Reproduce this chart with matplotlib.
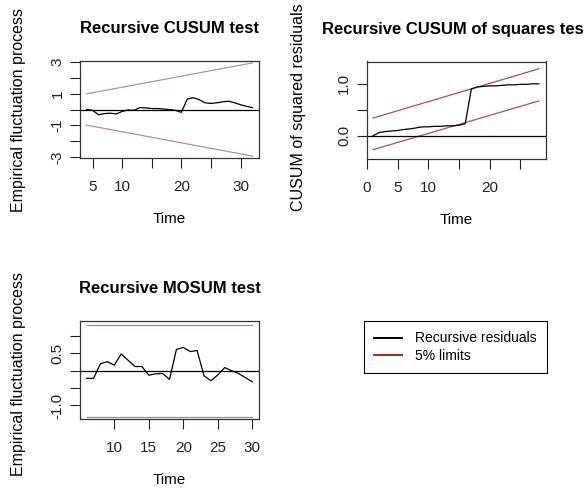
"""Recursive CUSUM / CUSUM-of-squares / MOSUM panels (strucchange-style efp plots)."""
import numpy as np
import matplotlib
matplotlib.use("Agg")
import matplotlib.pyplot as plt
from matplotlib.lines import Line2D

plt.rcParams["font.family"] = ["Liberation Sans", "DejaVu Sans"]
plt.rcParams["font.size"] = 11

# ── data ─────────────────────────────────────────────────────────────────────
cusum_t = np.arange(4, 33)
cusum_val = [0.0, -0.05, -0.33, -0.26, -0.23, -0.28, -0.12, -0.03, -0.05, 0.12,
             0.10, 0.06, 0.06, 0.03, 0.0, -0.05, -0.18, 0.65, 0.74, 0.62,
             0.42, 0.38, 0.42, 0.48, 0.52, 0.42, 0.30, 0.20, 0.12]
cusum_lim_t = [4, 32]
cusum_upper = [0.98, 2.92]
cusum_lower = [-0.98, -2.92]

sq_t = np.arange(1, 29)
sq_val = [0.0, 0.06, 0.08, 0.09, 0.10, 0.12, 0.13, 0.15, 0.17, 0.17,
          0.18, 0.18, 0.19, 0.19, 0.20, 0.23, 0.90, 0.94, 0.95, 0.96,
          0.96, 0.97, 0.98, 0.98, 0.99, 0.99, 1.0, 1.0]
sq_lim_t = [1, 28]
sq_upper = [0.34, 1.29]
sq_lower = [-0.27, 0.67]

mosum_t = np.arange(6, 31)
mosum_val = [-0.22, -0.22, 0.20, 0.26, 0.16, 0.48, 0.30, 0.12, 0.12, -0.13,
             -0.09, -0.08, -0.25, 0.61, 0.67, 0.55, 0.58, -0.15, -0.29, -0.12,
             0.09, 0.0, -0.08, -0.20, -0.32]
mosum_lim_t = [6, 30]
mosum_limit = 1.32

legend_labels = ["Recursive residuals", "5% limits"]


def style_axis(ax, xticks, xlabels, yticks, ylabels):
    ax.set_xticks(xticks)
    ax.set_xticklabels(xlabels)
    ax.set_yticks(yticks)
    ax.set_yticklabels(ylabels, rotation=90, va="center")
    ax.tick_params(direction="out", length=7, width=0.8, colors="#222222")
    ax.tick_params(axis="x", pad=9)
    ax.tick_params(axis="y", pad=4)
    for s in ax.spines.values():
        s.set_linewidth(0.9)
        s.set_color("#333333")
    ax.set_xlabel("Time", labelpad=13)


fig = plt.figure(figsize=(5.84, 4.92), dpi=100)

# Panel 1: recursive CUSUM
ax = fig.add_axes([80 / 584, 1 - 158 / 492, 179 / 584, 97 / 492])
ax.plot(cusum_lim_t, cusum_upper, color="#c48596", lw=0.9)
ax.plot(cusum_lim_t, cusum_lower, color="#c48596", lw=0.9)
ax.axhline(0, color="black", lw=0.9)
ax.plot(cusum_t, cusum_val, color="black", lw=0.9)
ax.set_xlim(2.88, 33.12)
ax.set_ylim(-3.04, 3.04)
style_axis(ax, [5, 10, 15, 20, 25, 30], ["5", "10", "", "20", "", "30"],
           [-3, -2, -1, 0, 1, 2, 3], ["-3", "", "-1", "", "1", "", "3"])
ax.set_title("Recursive CUSUM test", fontweight="bold", fontsize=12, pad=20)
ax.set_ylabel("Empirical fluctuation process", fontsize=11.5)
ax.yaxis.set_label_coords(-0.30, 0.5)

# Panel 2: CUSUM of squares (title runs off the right edge, as in the original)
ax = fig.add_axes([366.5 / 584, 1 - 159 / 492, 179 / 584, 97.5 / 492])
ax.plot(sq_lim_t, sq_upper, color="#b04a5c", lw=0.9)
ax.plot(sq_lim_t, sq_lower, color="#b04a5c", lw=0.9)
ax.axhline(0, color="black", lw=0.9)
ax.plot(sq_t, sq_val, color="black", lw=0.9)
ax.set_xlim(-0.08, 29.08)
ax.set_ylim(-0.45, 1.43)
style_axis(ax, [0, 5, 10, 15, 20, 25], ["0", "5", "10", "", "20", ""],
           [0.0, 0.5, 1.0], ["0.0", "", "1.0"])
ax.set_title("Recursive CUSUM of squares test", fontweight="bold", fontsize=12, pad=20)
ax.set_ylabel("CUSUM of squared residuals", fontsize=11.5)
ax.yaxis.set_label_coords(-0.34, 0.53)

# Panel 3: recursive MOSUM
ax = fig.add_axes([80 / 584, 1 - 419 / 492, 179 / 584, 98 / 492])
ax.plot(mosum_lim_t, [mosum_limit] * 2, color="#bc7b8c", lw=0.9)
ax.plot(mosum_lim_t, [-mosum_limit] * 2, color="#bc7b8c", lw=0.9)
ax.axhline(0, color="black", lw=0.9)
ax.plot(mosum_t, mosum_val, color="black", lw=0.9)
ax.set_xlim(5.04, 30.96)
ax.set_ylim(-1.39, 1.43)
style_axis(ax, [10, 15, 20, 25, 30], ["10", "15", "20", "25", "30"],
           [-1.0, -0.5, 0.0, 0.5, 1.0], ["-1.0", "", "", "0.5", ""])
ax.set_title("Recursive MOSUM test", fontweight="bold", fontsize=12, pad=20)
ax.set_ylabel("Empirical fluctuation process", fontsize=11.5)
ax.yaxis.set_label_coords(-0.30, 0.464)

# legend in the empty fourth slot
handles = [Line2D([], [], color="black", lw=1.4),
           Line2D([], [], color="#b02020", lw=1.4)]
leg = fig.legend(handles, legend_labels, loc="upper left",
                 bbox_to_anchor=(364 / 584, 1 - 321 / 492), fancybox=False,
                 edgecolor="black", framealpha=1, fontsize=10, handlelength=2.0,
                 handletextpad=0.9, borderpad=0.75, labelspacing=0.25,
                 borderaxespad=0)
leg.get_frame().set_linewidth(0.8)

fig.savefig("out.png", dpi=100)
